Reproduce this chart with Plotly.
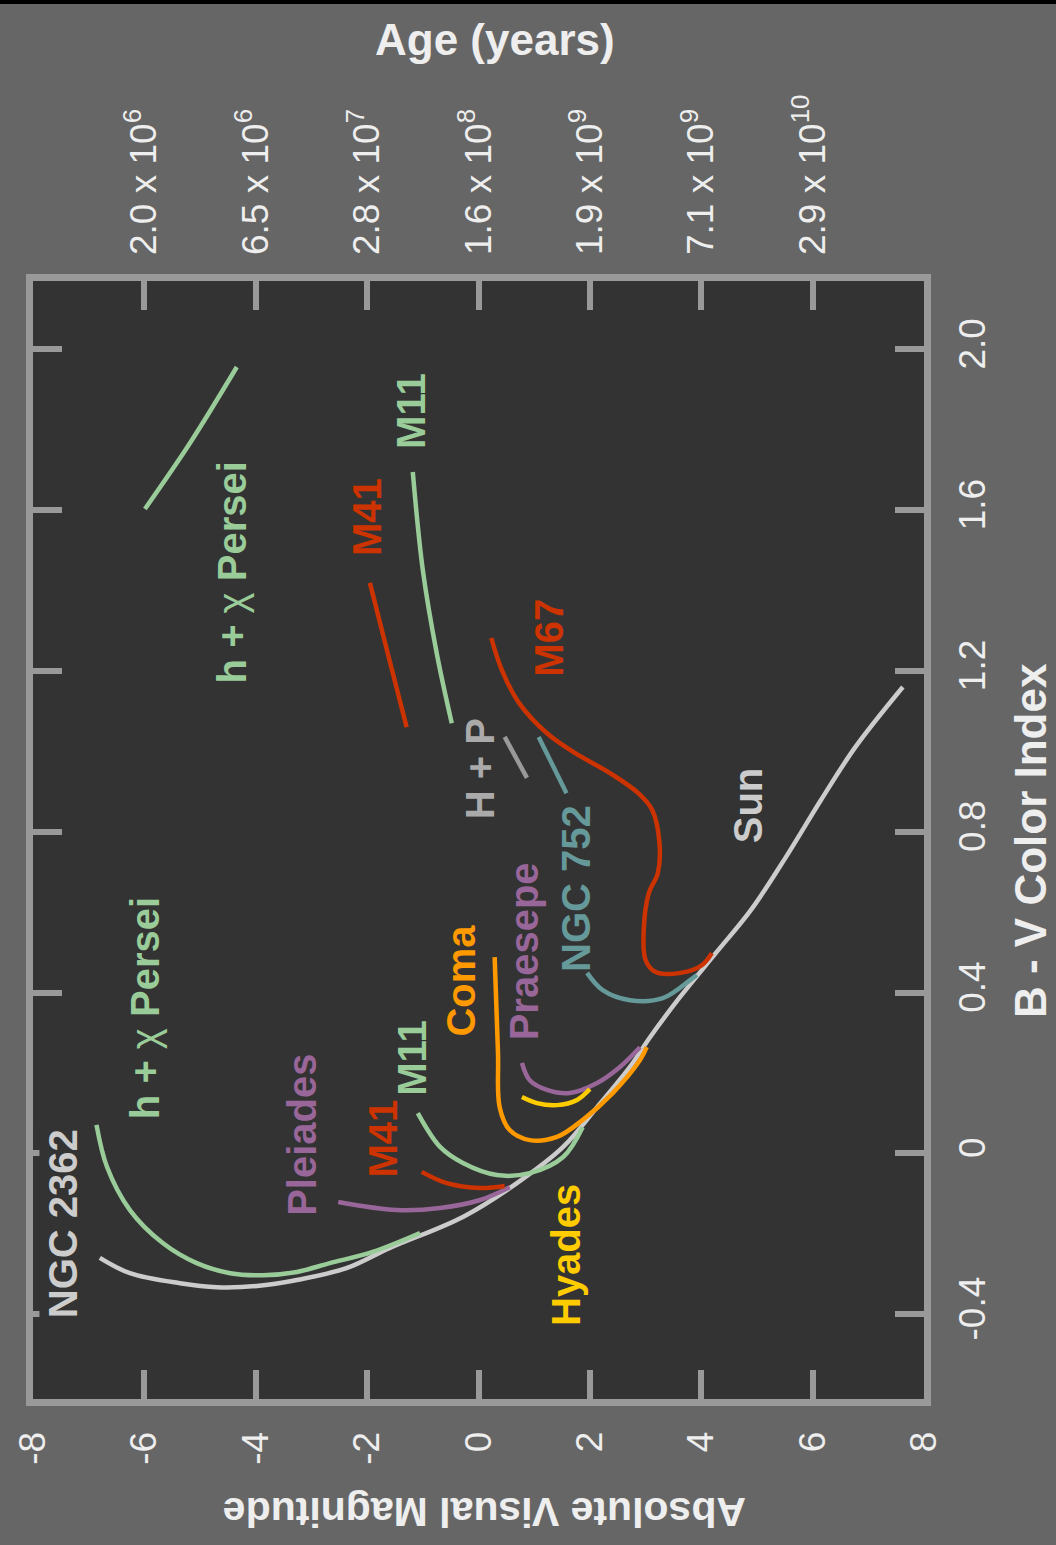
import plotly.graph_objects as go

# ---- cluster sequences: absolute visual magnitude (M_V) and colour index (B - V) ----
ngc2362_mag = [-6.80, -6.26, -5.36, -4.70, -3.98, -3.26, -2.36, -1.59, -0.28, 0.69, 1.52,
               2.13, 2.72, 3.08, 3.62, 4.26, 4.89, 5.52, 6.15, 6.77, 7.62]
ngc2362_bv = [-0.260, -0.298, -0.323, -0.333, -0.330, -0.315, -0.285, -0.235, -0.158, -0.074, 0.016,
              0.115, 0.215, 0.289, 0.389, 0.498, 0.605, 0.737, 0.879, 1.011, 1.160]

hchi_mag = [-6.86, -6.67, -6.26, -5.67, -5.06, -4.46, -3.87, -3.26, -2.67, -1.90, -1.05]
hchi_bv = [0.071, -0.034, -0.141, -0.223, -0.273, -0.298, -0.303, -0.295, -0.273, -0.245, -0.198]
hchi_giant_mag = [-5.99, -5.18, -4.34]
hchi_giant_bv = [1.603, 1.767, 1.956]

pleiades_mag = [-2.52, -1.47, -0.69, 0.03, 0.56]
pleiades_bv = [-0.121, -0.141, -0.136, -0.116, -0.084]

m41_mag = [-1.02, -0.57, 0.03, 0.47]
m41_bv = [-0.046, -0.074, -0.086, -0.081]
m41_giant_mag = [-1.95, -1.63, -1.29]
m41_giant_bv = [1.419, 1.244, 1.060]

m11_mag = [-1.09, -0.69, -0.28, 0.33, 0.92, 1.52, 1.87]
m11_bv = [0.100, 0.016, -0.024, -0.054, -0.049, -0.009, 0.065]
m11_giant_mag = [-1.18, -1.00, -0.75, -0.48]
m11_giant_bv = [1.695, 1.451, 1.244, 1.070]

coma_mag = [0.29, 0.35, 0.38, 0.56, 0.92, 1.41, 1.87, 2.41, 2.90, 3.02]
coma_bv = [0.488, 0.250, 0.115, 0.058, 0.033, 0.041, 0.083, 0.150, 0.232, 0.264]

hyades_mag = [0.78, 1.05, 1.41, 1.77, 2.00]
hyades_bv = [0.140, 0.125, 0.120, 0.133, 0.160]

praesepe_mag = [0.78, 0.92, 1.23, 1.64, 2.13, 2.54, 2.90]
praesepe_bv = [0.225, 0.182, 0.158, 0.150, 0.175, 0.215, 0.264]

ngc752_mag = [1.95, 2.23, 2.72, 3.31, 3.80, 3.92]
ngc752_bv = [0.449, 0.406, 0.381, 0.386, 0.431, 0.444]
ngc752_giant_mag = [1.08, 1.58]
ngc752_giant_bv = [1.036, 0.896]

hp_giant_mag = [0.47, 0.87]
hp_giant_bv = [1.036, 0.934]

m67_mag = [0.23, 0.42, 0.73, 1.23, 1.73, 2.36, 2.87, 3.12, 3.25, 3.22, 3.06, 2.97, 3.00,
           3.18, 3.63, 4.01, 4.19]
m67_bv = [1.282, 1.202, 1.120, 1.045, 0.996, 0.946, 0.896, 0.854, 0.772, 0.697, 0.648, 0.563,
          0.481, 0.451, 0.449, 0.468, 0.498]

# ---- axis ticks ----
mag_ticks = [-8, -6, -4, -2, 0, 2, 4, 6, 8]
mag_labels = ["-8", "-6", "-4", "-2", "0", "2", "4", "6", "8"]
bv_ticks = [-0.4, 0.0, 0.4, 0.8, 1.2, 1.6, 2.0]
bv_labels = ["-0.4", "0", "0.4", "0.8", "1.2", "1.6", "2.0"]
age_ticks = [-6, -4, -2, 0, 2, 4, 6]
age_labels = ["2.0 x 10<sup>6</sup>", "6.5 x 10<sup>6</sup>", "2.8 x 10<sup>7</sup>",
              "1.6 x 10<sup>8</sup>", "1.9 x 10<sup>9</sup>", "7.1 x 10<sup>9</sup>",
              "2.9 x 10<sup>10</sup>"]

GRAY = "#cccccc"
GREEN = "#99cc99"
RED = "#cc3300"
ORANGE = "#ff9900"
YELLOW = "#ffcc00"
PURPLE = "#996699"
TEAL = "#669999"
HP_GRAY = "#999999"
FRAME = "#999999"
TEXT = "#eeeeee"
PLOT_BG = "#333333"
FONT = "Liberation Sans, Arial, sans-serif"
CHI = '<span style="font-weight:normal">\u03c7</span>'

curves = [
    (ngc2362_mag, ngc2362_bv, GRAY),
    (hchi_mag, hchi_bv, GREEN),
    (hchi_giant_mag, hchi_giant_bv, GREEN),
    (pleiades_mag, pleiades_bv, PURPLE),
    (m41_mag, m41_bv, RED),
    (m41_giant_mag, m41_giant_bv, RED),
    (m11_mag, m11_bv, GREEN),
    (m11_giant_mag, m11_giant_bv, GREEN),
    (coma_mag, coma_bv, ORANGE),
    (praesepe_mag, praesepe_bv, PURPLE),
    (hyades_mag, hyades_bv, YELLOW),
    (ngc752_mag, ngc752_bv, TEAL),
    (ngc752_giant_mag, ngc752_giant_bv, TEAL),
    (m67_mag, m67_bv, RED),
]

fig = go.Figure()
for mags, bvs, color in curves:
    fig.add_trace(go.Scatter(x=mags, y=bvs, mode="lines",
                             line=dict(color=color, width=4.5, shape="spline"),
                             hoverinfo="skip", showlegend=False))
# the H + P giants share the top (age) axis so that axis is always built
fig.add_trace(go.Scatter(x=hp_giant_mag, y=hp_giant_bv, mode="lines", xaxis="x2",
                         line=dict(color=HP_GRAY, width=4.5), hoverinfo="skip",
                         showlegend=False))

# cluster names, written along the rotated diagram
cluster_names = [
    ("NGC 2362", -7.46, -0.176, GRAY),
    ("h + " + CHI + " Persei", -5.99, 0.361, GREEN),
    ("Pleiades", -3.17, 0.046, PURPLE),
    ("M41", -1.72, 0.036, RED),
    ("M11", -1.20, 0.237, GREEN),
    ("Coma", -0.32, 0.429, ORANGE),
    ("Praesepe", 0.82, 0.503, PURPLE),
    ("NGC 752", 1.75, 0.660, TEAL),
    ("Hyades", 1.57, -0.253, YELLOW),
    ("Sun", 4.84, 0.866, GRAY),
    ("H + P", 0.03, 0.956, "#aaaaaa"),
    ("M67", 1.26, 1.282, RED),
    ("M41", -2.00, 1.583, RED),
    ("M11", -1.20, 1.846, GREEN),
    ("h + " + CHI + " Persei", -4.42, 1.446, GREEN),
]
annotations = []
for text, mx, by, color in cluster_names:
    annotations.append(dict(x=mx, y=by, xref="x", yref="y", text=text, showarrow=False,
                            textangle=-90, xanchor="center", yanchor="middle",
                            bgcolor=PLOT_BG if text == "NGC 2362" else None,
                            font=dict(family=FONT, size=40, color=color, weight="bold")))

annotations += [
    dict(x=0.5185, y=1.2156, xref="paper", yref="paper", text="Age (years)", showarrow=False,
         xanchor="center", yanchor="middle",
         font=dict(family=FONT, size=44, color=TEXT, weight="bold")),
    dict(x=1.1190, y=0.4991, xref="paper", yref="paper", text="B - V Color Index",
         showarrow=False, textangle=-90, xanchor="center", yanchor="middle",
         font=dict(family=FONT, size=44, color=TEXT, weight="bold")),
    dict(x=0.5073, y=-0.1011, xref="paper", yref="paper", text="Absolute Visual Magnitude",
         showarrow=False, textangle=180, xanchor="center", yanchor="middle",
         font=dict(family=FONT, size=41, color=TEXT, weight="bold")),
]

tick_font = dict(family=FONT, size=37, color=TEXT)

fig.update_layout(
    width=1056, height=1545,
    margin=dict(l=33, r=132, t=281, b=146, pad=0),
    paper_bgcolor="#666666", plot_bgcolor=PLOT_BG,
    showlegend=False,
    annotations=annotations,
    shapes=[dict(type="rect", xref="paper", yref="paper", x0=-0.05, x1=1.2,
                 y0=1.2513 - 4 / 1118, y1=1.26, fillcolor="#000000", line=dict(width=0),
                 layer="below")],
    xaxis=dict(range=[-8, 8], tickmode="array", tickvals=mag_ticks, ticktext=mag_labels,
               tickangle=-90, ticks="", showline=True, linewidth=7, linecolor=FRAME,
               mirror=True, showgrid=False, zeroline=False, tickfont=tick_font,
               ticklabelstandoff=11),
    xaxis2=dict(range=[-8, 8], overlaying="x", side="top", anchor="y", tickmode="array",
                tickvals=age_ticks, ticktext=age_labels, tickangle=-90, ticks="inside",
                ticklen=29, tickwidth=6, tickcolor=FRAME, mirror="ticks", showline=False,
                showgrid=False, zeroline=False, tickfont=tick_font, ticklabelstandoff=25),
    yaxis=dict(range=[-0.611, 2.170], side="right", tickmode="array", tickvals=bv_ticks,
               ticktext=bv_labels, tickangle=-90, ticks="inside", ticklen=29, tickwidth=6,
               tickcolor=FRAME, showline=True, linewidth=7, linecolor=FRAME, mirror="ticks",
               showgrid=False, zeroline=False, tickfont=tick_font, ticklabelstandoff=10),
)

fig.write_html("out.html")
